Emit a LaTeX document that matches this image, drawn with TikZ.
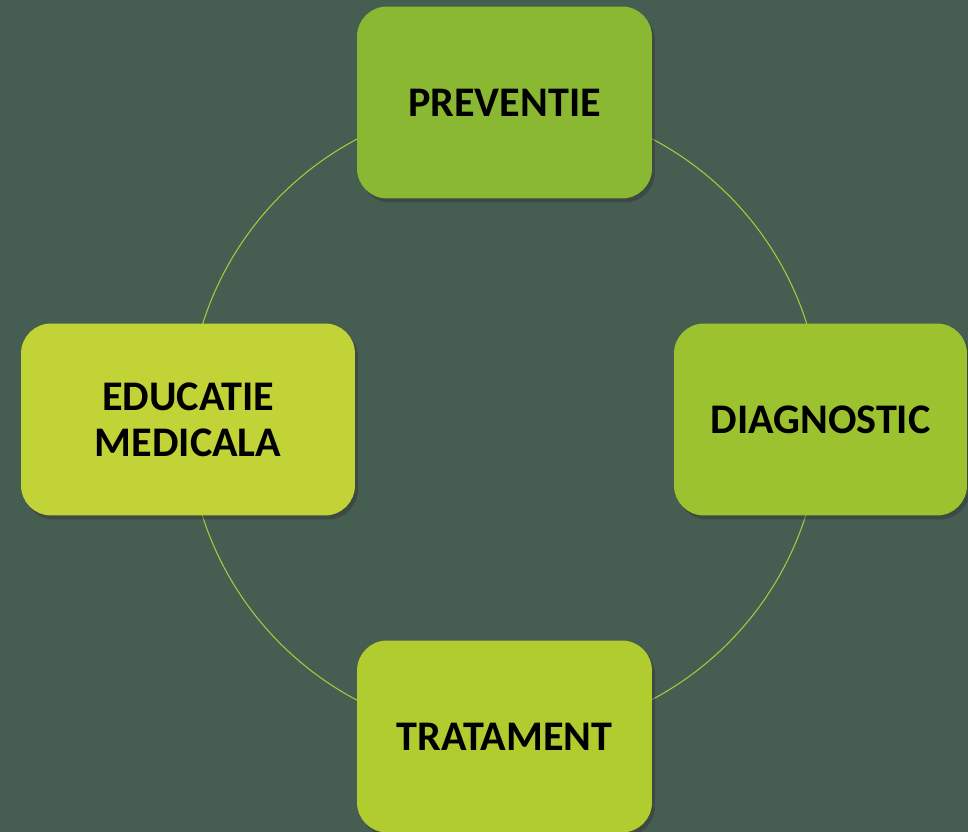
\documentclass[tikz,border=0pt]{standalone}
\usepackage{fontspec}
\setmainfont{Carlito}
\usetikzlibrary{backgrounds,shadows}

\definecolor{bgGreen}{RGB}{70,94,81}
\definecolor{ringCol}{RGB}{172,200,60}
\definecolor{prevCol}{RGB}{139,184,51}
\definecolor{diagCol}{RGB}{157,194,48}
\definecolor{tratCol}{RGB}{176,204,47}
\definecolor{educCol}{RGB}{193,211,55}

\begin{document}
\begin{tikzpicture}[x=0.02cm, y=0.02cm,
        stage/.style={rounded corners=0.6cm, minimum width=5.9cm, minimum height=3.84cm,
            align=center, font=\fontsize{24}{26}\selectfont\bfseries, text=black,
            drop shadow={shadow xshift=0.06cm, shadow yshift=-0.08cm, opacity=0.45, fill=black!80}}]
            \useasboundingbox (0,0) rectangle (968,832);

            \coordinate (c) at (504,412.5);

            % the four stages of the cycle
            \node[stage, fill=prevCol] (prev) at (504.5,729.5) {PREVENTIE};
            \node[stage, fill=diagCol, minimum width=5.86cm] (diag) at (820.5,412.5) {DIAGNOSTIC};
            \node[stage, fill=tratCol] (trat) at (504.5,95.5) {TRATAMENT};
            \node[stage, fill=educCol, minimum width=6.68cm] (educ) at (188,412.5) {EDUCATIE\\MEDICALA};

            % background and the ring behind the boxes
            \begin{scope}[on background layer]
                \fill[bgGreen] (0,0) rectangle (968,832);
                \draw[ringCol, line width=0.6pt] (prev.center) arc[start angle=90, end angle=0, radius=6.34cm]
                    -- (diag.center) arc[start angle=0, end angle=-90, radius=6.34cm]
                    -- (trat.center) arc[start angle=-90, end angle=-180, radius=6.34cm]
                    -- (educ.center) arc[start angle=180, end angle=90, radius=6.34cm];
            \end{scope}
        \end{tikzpicture}
\end{document}
